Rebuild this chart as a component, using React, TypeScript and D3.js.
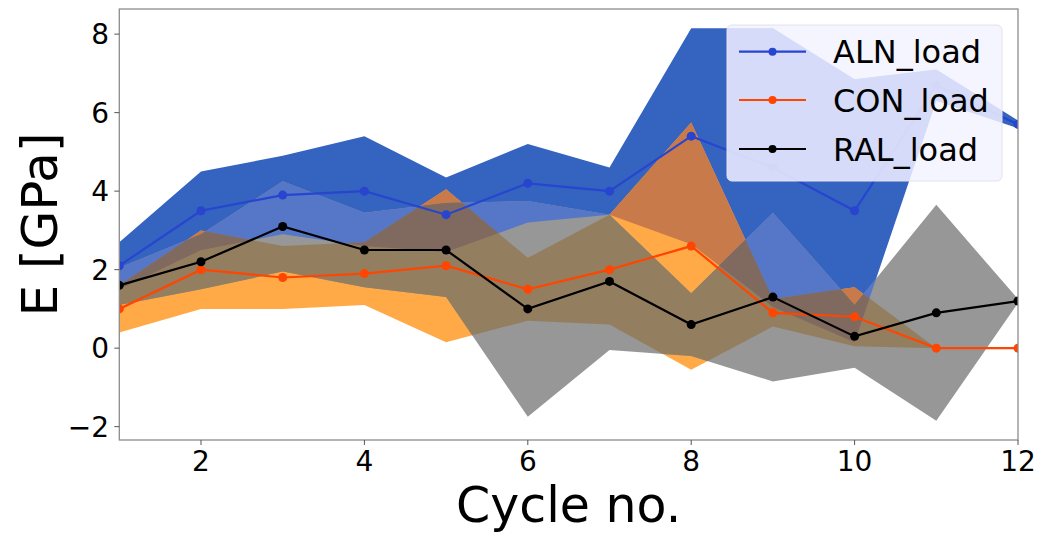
import React from "react";
import * as d3 from "d3";

const cycles = [1, 2, 3, 4, 5, 6, 7, 8, 9, 10, 11, 12];

const alnMean = [2.1, 3.5, 3.9, 4.0, 3.4, 4.2, 4.0, 5.4, 4.6, 3.5, 6.7, 5.7];
const alnUpper = [2.7, 4.5, 4.9, 5.4, 4.35, 5.2, 4.6, 8.15, 8.15, 6.85, 7.1, 5.8];
const alnLower = [1.5, 2.5, 2.9, 2.6, 2.45, 3.2, 3.4, 2.65, 1.05, 0.15, 6.3, 5.6];

const conMean = [1.0, 2.0, 1.8, 1.9, 2.1, 1.5, 2.0, 2.6, 0.9, 0.8, 0.0, 0.0];
const conUpper = [1.6, 3.0, 2.6, 2.7, 4.05, 2.3, 3.4, 5.75, 1.25, 1.55, 0.0, 0.0];
const conLower = [0.4, 1.0, 1.0, 1.1, 0.15, 0.7, 0.6, -0.55, 0.55, 0.05, 0.0, 0.0];

const ralMean = [1.6, 2.2, 3.1, 2.5, 2.5, 1.0, 1.7, 0.6, 1.3, 0.3, 0.9, 1.2];
const ralUpper = [2.05, 2.9, 4.25, 3.45, 3.7, 3.75, 3.4, 1.4, 3.45, 1.1, 3.65, 1.25];
const ralLower = [1.1, 1.5, 1.95, 1.55, 1.3, -1.75, -0.05, -0.2, -0.85, -0.5, -1.85, 1.15];

const xTicks = [2, 4, 6, 8, 10, 12];
const yTicks = [-2, 0, 2, 4, 6, 8];

const seriesNames = ["ALN_load", "CON_load", "RAL_load"];
const lineColors = ["#2745cf", "#ff4500", "#000000"];

const W = 1043;
const H = 533;
const left = 119.3;
const right = 1018;
const top = 9;
const bottom = 440;

const FONT = "DejaVu Sans, sans-serif";

export default function App() {
  const x = d3.scaleLinear().domain([1, 12]).range([left, right]);
  const y = d3.scaleLinear().domain([-2.34, 8.64]).range([bottom, top]);

  const band = (lo: number[], hi: number[]) =>
    d3
      .area<number>()
      .x((d) => x(d))
      .y0((_, i) => y(lo[i]))
      .y1((_, i) => y(hi[i]))(cycles) as string;

  const line = (vals: number[]) =>
    d3
      .line<number>()
      .x((d) => x(d))
      .y((_, i) => y(vals[i]))(cycles) as string;

  const bPath = band(alnLower, alnUpper);
  const oPath = band(conLower, conUpper);
  const gPath = band(ralLower, ralUpper);

  const means = [alnMean, conMean, ralMean];

  const legX = 727;
  const legY = 25;
  const legW = 275;
  const legH = 156;
  const rowY = [51.7, 100, 149];

  return (
    <svg
      width={W}
      height={H}
      style={{ position: "absolute", left: 0, top: 0, background: "#fff" }}
      fontFamily={FONT}
    >
      <defs>
        <clipPath id="cPlot">
          <rect x={left} y={top} width={right - left} height={bottom - top} />
        </clipPath>
        <clipPath id="cB">
          <path d={bPath} />
        </clipPath>
        <clipPath id="cO">
          <path d={oPath} />
        </clipPath>
      </defs>
      <rect x={0} y={0} width={W} height={H} fill="#fff" />

      <g clipPath="url(#cPlot)">
        <path d={bPath} fill="#3463c0" />
        <path d={oPath} fill="#ffaa47" />
        <path d={gPath} fill="#979797" />
        <g clipPath="url(#cB)">
          <path d={oPath} fill="#c97a4b" />
        </g>
        <g clipPath="url(#cB)">
          <path d={gPath} fill="#5677c7" />
        </g>
        <g clipPath="url(#cO)">
          <path d={gPath} fill="#947e60" />
        </g>
        <g clipPath="url(#cO)">
          <g clipPath="url(#cB)">
            <path d={gPath} fill="#80695e" />
          </g>
        </g>

        {means.map((m, si) => (
          <g key={si}>
            <path d={line(m)} fill="none" stroke={lineColors[si]} strokeWidth={2.2} />
            {cycles.map((c, i) => (
              <circle key={i} cx={x(c)} cy={y(m[i])} r={4.5} fill={lineColors[si]} />
            ))}
          </g>
        ))}
      </g>

      {/* spines */}
      <rect
        x={left}
        y={top}
        width={right - left}
        height={bottom - top}
        fill="none"
        stroke="#8c8c8c"
        strokeWidth={1.3}
      />

      {/* x ticks */}
      {xTicks.map((t) => (
        <g key={t}>
          <line x1={x(t)} x2={x(t)} y1={bottom} y2={bottom + 5} stroke="#555" strokeWidth={1} />
          <text x={x(t)} y={471} textAnchor="middle" fontSize={28} fill="#000">
            {t}
          </text>
        </g>
      ))}
      {/* y ticks */}
      {yTicks.map((t) => (
        <g key={t}>
          <line x1={left - 5} x2={left} y1={y(t)} y2={y(t)} stroke="#555" strokeWidth={1} />
          <text x={109} y={y(t) + 10} textAnchor="end" fontSize={28} fill="#000">
            {t < 0 ? "\u2212" + Math.abs(t) : String(t)}
          </text>
        </g>
      ))}

      <text x={(left + right) / 2} y={522} textAnchor="middle" fontSize={49} fill="#000">
        Cycle no.
      </text>
      <text
        transform={`translate(57, ${(top + bottom) / 2}) rotate(-90)`}
        textAnchor="middle"
        fontSize={50}
        fill="#000"
      >
        E [GPa]
      </text>

      {/* legend */}
      <rect
        x={legX}
        y={legY}
        width={legW}
        height={legH}
        rx={5}
        fill="#f2f2ff"
        fillOpacity={0.8}
        stroke="#e2e2ee"
        strokeWidth={1}
      />
      <g clipPath="url(#cB)">
        <rect x={legX} y={legY} width={legW} height={legH} rx={5} fill="#e4e4ff" fillOpacity={0.4} />
      </g>
      {seriesNames.map((n, i) => (
        <g key={n}>
          <line
            x1={739}
            x2={806}
            y1={rowY[i]}
            y2={rowY[i]}
            stroke={lineColors[i]}
            strokeWidth={2.2}
          />
          <circle cx={772.5} cy={rowY[i]} r={4} fill={lineColors[i]} />
          <text x={833} y={rowY[i] + 11.6} fontSize={32} fill="#000">
            {n}
          </text>
        </g>
      ))}
    </svg>
  );
}
